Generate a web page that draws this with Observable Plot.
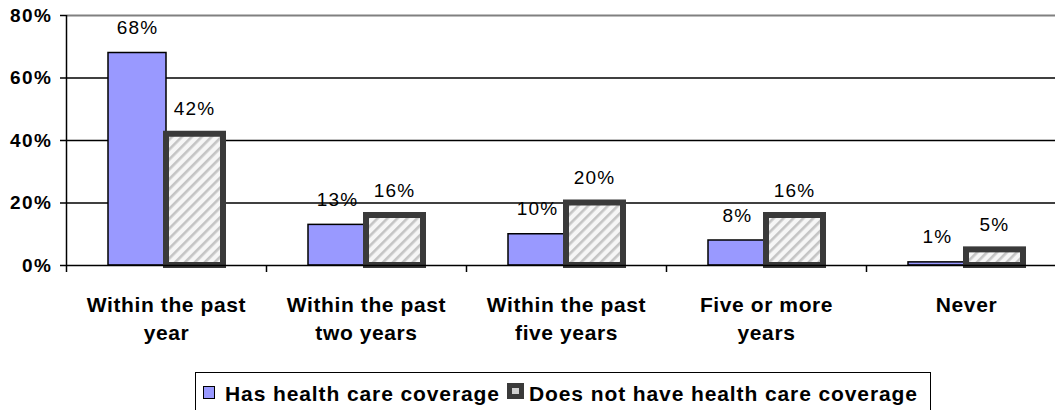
<!DOCTYPE html>
<html>
<head>
<meta charset="utf-8">
<script src="https://cdn.jsdelivr.net/npm/d3@7"></script>
<script src="https://cdn.jsdelivr.net/npm/@observablehq/plot@0.6"></script>
<style>
  html, body { margin: 0; padding: 0; background: #fff; overflow: hidden; }
  #wrap { width: 1055px; height: 370px; overflow: hidden; position: relative; }
  #wrap svg { overflow: hidden; }
  .ylab text { letter-spacing: 1.5px; }
  .xlab text { letter-spacing: 0.6px; }
  .vlab text { letter-spacing: 1.2px; }
  #legend {
    position: absolute; left: 195px; top: 372px; width: 736px; height: 60px;
    border: 1.5px solid #000; box-sizing: border-box;
    font-family: "Liberation Sans", Arial, sans-serif; font-weight: bold; font-size: 21px;
    letter-spacing: 0.9px; line-height: 1; padding: 0; 
  }
  .item { position: absolute; top: 10px; display: flex; align-items: flex-start; white-space: nowrap; }
  .i1 { left: 7px; }
  .i2 { left: 311px; }
  .sw { display: inline-block; box-sizing: border-box; }
  .sw1 { width: 12px; height: 13px; background: #9999FF; border: 1.5px solid #000; margin: 3px 10px 0 0; }
  .sw2 { width: 17px; height: 16px; background: #d0d0d0; border: 5px solid #3a3a3a; margin: 0px 5px 0 0; }
</style>
</head>
<body>
<div id="wrap"></div>
<div id="legend">
  <span class="item i1"><span class="sw sw1"></span><span id="s1"></span></span>
  <span class="item i2"><span class="sw sw2"></span><span id="s2"></span></span>
</div>
<script>
const categories = ["Within the past year", "Within the past two years", "Within the past five years", "Five or more years", "Never"];
const categoryLabels = ["Within the past\nyear", "Within the past\ntwo years", "Within the past\nfive years", "Five or more\nyears", "Never"];
const series = ["Has health care coverage", "Does not have health care coverage"];
const hasCoverage = [68, 13, 10, 8, 1];
const noCoverage = [42, 16, 20, 16, 5];
const yTicks = [0, 20, 40, 60, 80];

document.getElementById("s1").textContent = series[0];
document.getElementById("s2").textContent = series[1];

const dataHas = categories.map((c, i) => ({cat: c, value: hasCoverage[i]}));
const dataNo = categories.map((c, i) => ({cat: c, value: noCoverage[i]}));
const labelOf = new Map(categories.map((c, i) => [c, categoryLabels[i]]));

const font = "'Liberation Sans', Arial, sans-serif";

const chart = Plot.plot({
  width: 1055,
  height: 370,
  marginTop: 15,
  marginBottom: 105,
  marginLeft: 66,
  marginRight: 0,
  style: {fontFamily: font, background: "#fff", color: "#000"},
  x: {type: "band", domain: categories, range: [66, 1066], padding: 0, label: null},
  y: {domain: [0, 80], range: [265, 15], label: null},
  marks: [
    Plot.ruleY([20, 40, 60], {stroke: "#000", strokeWidth: 1.5}),
    Plot.ruleY([80], {stroke: "#808080", strokeWidth: 2}),
    Plot.barY(dataHas, {x: "cat", y: "value", fill: "#9999FF", stroke: "#000", strokeWidth: 1.5, insetLeft: 42, insetRight: 100}),
    Plot.barY(dataNo, {x: "cat", y: "value", fill: "url(#hatch)", stroke: "#3a3a3a", strokeWidth: 6, insetLeft: 100, insetRight: 43}),
    Plot.ruleY([0], {stroke: "#000", strokeWidth: 1.5}),
    Plot.ruleX([categories[0]], {dx: -100, stroke: "#000", strokeWidth: 1.5}),
    Plot.axisX({tickSize: 7, tickFormat: () => "", dx: -100, stroke: "#000", strokeWidth: 1.5, label: null}),
    Plot.axisX({tickSize: 0, tickPadding: 26, fontSize: 21, fontWeight: "bold", lineHeight: 1.35, tickFormat: d => labelOf.get(d), className: "xlab", fill: "#000", label: null}),
    Plot.axisY({ticks: yTicks, tickSize: 6, tickPadding: 8, tickFormat: d => d + "%", fontSize: 19, fontWeight: "bold", className: "ylab", fill: "#000", stroke: "#000", strokeWidth: 1.5, label: null}),
    Plot.text(dataHas, {x: "cat", y: "value", text: d => d.value + "%", dx: -29, dy: -25, lineAnchor: "middle", fontSize: 19, fill: "#000", className: "vlab"}),
    Plot.text(dataNo, {x: "cat", y: "value", text: d => d.value + "%", dx: 28, dy: -25, lineAnchor: "middle", fontSize: 19, fill: "#000", className: "vlab"})
  ]
});

const ns = "http://www.w3.org/2000/svg";
const defs = document.createElementNS(ns, "defs");
defs.innerHTML = `<pattern id="hatch" patternUnits="userSpaceOnUse" width="7" height="7" patternTransform="rotate(45)">
  <rect width="7" height="7" fill="#f6f6f6"/>
  <rect x="0" y="0" width="2.6" height="7" fill="#c4c4c4"/>
</pattern>`;
chart.insertBefore(defs, chart.firstChild);
document.getElementById("wrap").appendChild(chart);
</script>
</body>
</html>
